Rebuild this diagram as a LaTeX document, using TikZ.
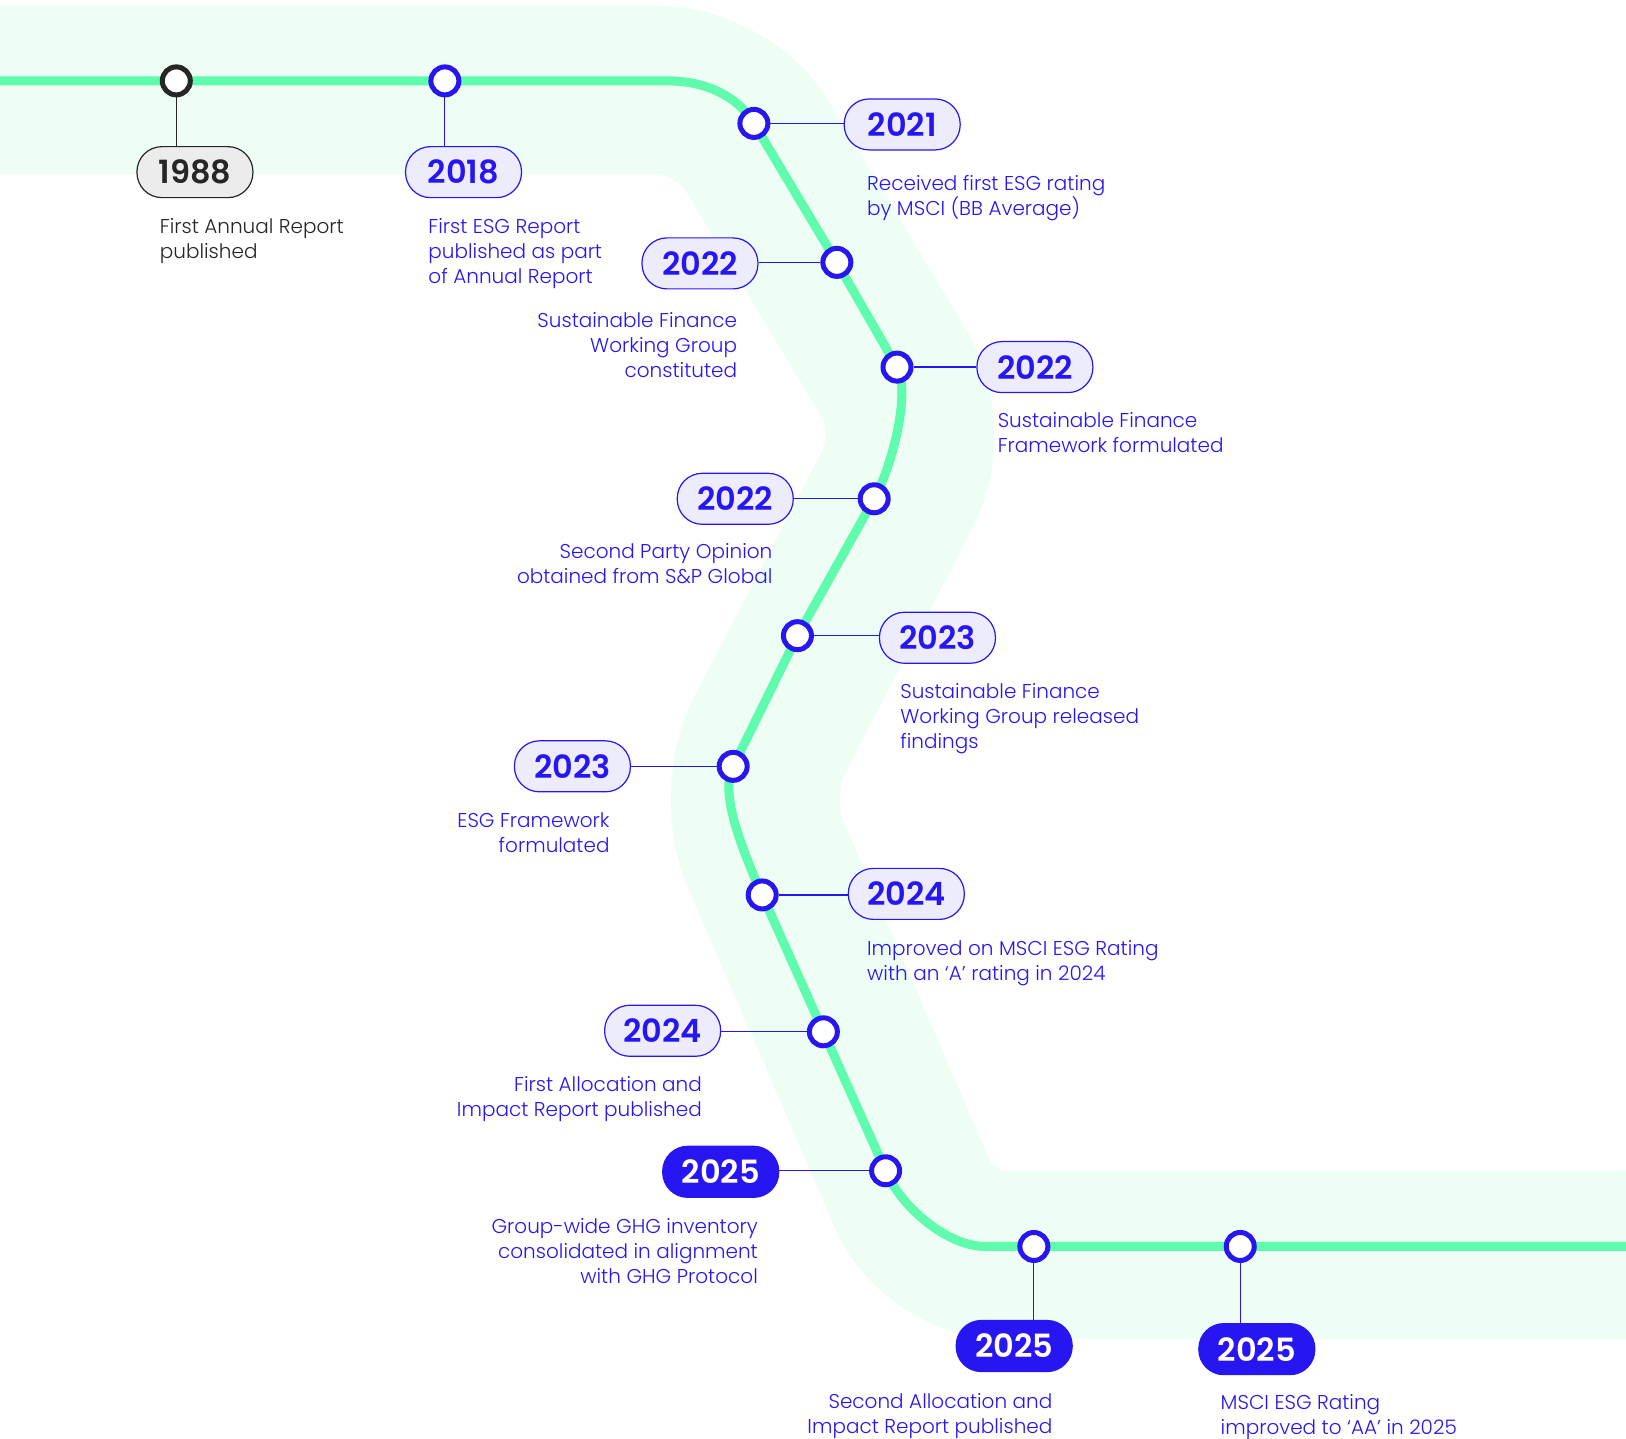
\documentclass[tikz,border=0pt]{standalone}
\usepackage{fontspec}
\setmainfont{Poppins}[UprightFont={Poppins Light}, BoldFont={Poppins SemiBold}]
\usetikzlibrary{positioning}

\definecolor{mint}{RGB}{94,252,172}
\definecolor{mintbg}{RGB}{238,254,245}
\definecolor{esgblue}{RGB}{40,22,242}
\definecolor{pillbg}{RGB}{236,236,253}
\definecolor{greybg}{RGB}{236,236,236}
\definecolor{ink}{RGB}{38,38,38}

\tikzset{
  stop/.style={circle, draw=esgblue, line width=5pt, fill=white, minimum size=28pt, inner sep=0pt},
  year/.style={rectangle, rounded corners=25pt, minimum width=116pt, minimum height=51pt, inner sep=0pt,
    draw=esgblue, line width=1.2pt, fill=pillbg, text=esgblue, font=\bfseries\fontsize{32}{32}\selectfont},
  newyear/.style={year, fill=esgblue, text=white},
  oldyear/.style={year, draw=ink, fill=greybg, text=ink},
  note/.style={text=esgblue, inner sep=0pt, font=\fontsize{20}{25}\selectfont},
  link/.style={esgblue, line width=1.2pt}
}

\begin{document}
\begin{tikzpicture}[x=1.037pt, y=-1.037pt]

\useasboundingbox (0,0) rectangle (1568,1387);
\clip (0,0) rectangle (1568,1387);

% pale band behind the track
\draw[mintbg, line width=169pt, rounded corners=64pt] (-100,87) -- (698,87) -- (895,415) -- (713,765) -- (905,1210) -- (1700,1210);

% stops on the track
\coordinate (p1) at (170,78);
\coordinate (p2) at (429,78);
\coordinate (p3) at (727,119);
\coordinate (p4) at (807,253);
\coordinate (p5) at (865,354);
\coordinate (p6) at (843,481);
\coordinate (p7) at (769,613);
\coordinate (p8) at (707,739);
\coordinate (p9) at (735,863);
\coordinate (p10) at (794,995);
\coordinate (p11) at (854,1129);
\coordinate (p12) at (997,1202);
\coordinate (p13) at (1196,1202);

\draw[mint, line width=9pt] (-10,78) -- (p1) -- (p2) -- (645,78) .. controls (680,78) and (712,93) .. (p3) -- (p4) -- (p5)
  .. controls (878,376) and (862,446) .. (p6) -- (p7) -- (p8)
  .. controls (693,765) and (717,822) .. (p9) -- (p10) -- (p11)
  .. controls (870,1166) and (915,1202) .. (950,1202) -- (p12) -- (p13) -- (1600,1202);

\node[stop, draw=ink] (c1988) at (p1) {};
\node[stop] (c2018) at (p2) {};
\node[stop] (c2021) at (p3) {};
\node[stop] (c2022a) at (p4) {};
\node[stop] (c2022b) at (p5) {};
\node[stop] (c2022c) at (p6) {};
\node[stop] (c2023a) at (p7) {};
\node[stop] (c2023b) at (p8) {};
\node[stop] (c2024a) at (p9) {};
\node[stop] (c2024b) at (p10) {};
\node[stop] (c2025a) at (p11) {};
\node[stop] (c2025b) at (p12) {};
\node[stop] (c2025c) at (p13) {};

% year pills
\node[oldyear] (y1988) at (188,166) {1988};
\node[year] (y2018) at (447,166) {2018};
\node[year] (y2021) at (870,120) {2021};
\node[year] (y2022a) at (675,254) {2022};
\node[year] (y2022b) at (998,354) {2022};
\node[year] (y2022c) at (709,481) {2022};
\node[year] (y2023a) at (904,615) {2023};
\node[year] (y2023b) at (552,739) {2023};
\node[year] (y2024a) at (874,862) {2024};
\node[year] (y2024b) at (639,994) {2024};
\node[newyear] (y2025a) at (695,1130) {2025};
\node[newyear] (y2025b) at (978,1298) {2025};
\node[newyear] (y2025c) at (1212,1301) {2025};

% connectors
\draw[link, ink] (c1988) -- (c1988 |- y1988.north);
\draw[link] (c2018) -- (c2018 |- y2018.north);
\draw[link] (c2021) -- (c2021 -| y2021.west);
\draw[link] (c2022a) -- (c2022a -| y2022a.east);
\draw[link] (c2022b) -- (c2022b -| y2022b.west);
\draw[link] (c2022c) -- (c2022c -| y2022c.east);
\draw[link] (c2023a) -- (c2023a -| y2023a.west);
\draw[link] (c2023b) -- (c2023b -| y2023b.east);
\draw[link] (c2024a) -- (c2024a -| y2024a.west);
\draw[link] (c2024b) -- (c2024b -| y2024b.east);
\draw[link] (c2025a) -- (c2025a -| y2025a.east);
\draw[link] (c2025b) -- (c2025b |- y2025b.north);
\draw[link] (c2025c) -- (c2025c |- y2025c.north);

% captions
\node[note, text=ink, anchor=north west, align=left] (t1988) at (154,210.5) {First Annual Report\\published};
\node[note, anchor=north west, align=left] (t2018) at (413,210.5) {First ESG Report\\published as part\\of Annual Report};
\node[note, anchor=north west, align=left] (t2021) at (836,168.5) {Received first ESG rating\\by MSCI (BB Average)};
\node[note, anchor=north east, align=right] (t2022a) at (711,301.5) {Sustainable Finance\\Working Group\\constituted};
\node[note, anchor=north west, align=left] (t2022b) at (962,397.5) {Sustainable Finance\\Framework formulated};
\node[note, anchor=north east, align=right] (t2022c) at (745,523.5) {Second Party Opinion\\obtained from S\&P Global};
\node[note, anchor=north west, align=left] (t2023a) at (868,658.5) {Sustainable Finance\\Working Group released\\findings};
\node[note, anchor=north east, align=right] (t2023b) at (588,783.5) {ESG Framework\\formulated};
\node[note, anchor=north west, align=left] (t2024a) at (836,906.5) {Improved on MSCI ESG Rating\\with an ‘A’ rating in 2024};
\node[note, anchor=north east, align=right] (t2024b) at (677,1037.5) {First Allocation and\\Impact Report published};
\node[note, anchor=north east, align=right] (t2025a) at (731,1174.5) {Group-wide GHG inventory\\consolidated in alignment\\with GHG Protocol};
\node[note, anchor=north east, align=right] (t2025b) at (1015,1343.5) {Second Allocation and\\Impact Report published};
\node[note, anchor=north west, align=left] (t2025c) at (1177,1344.5) {MSCI ESG Rating\\improved to ‘AA’ in 2025};

\end{tikzpicture}
\end{document}
